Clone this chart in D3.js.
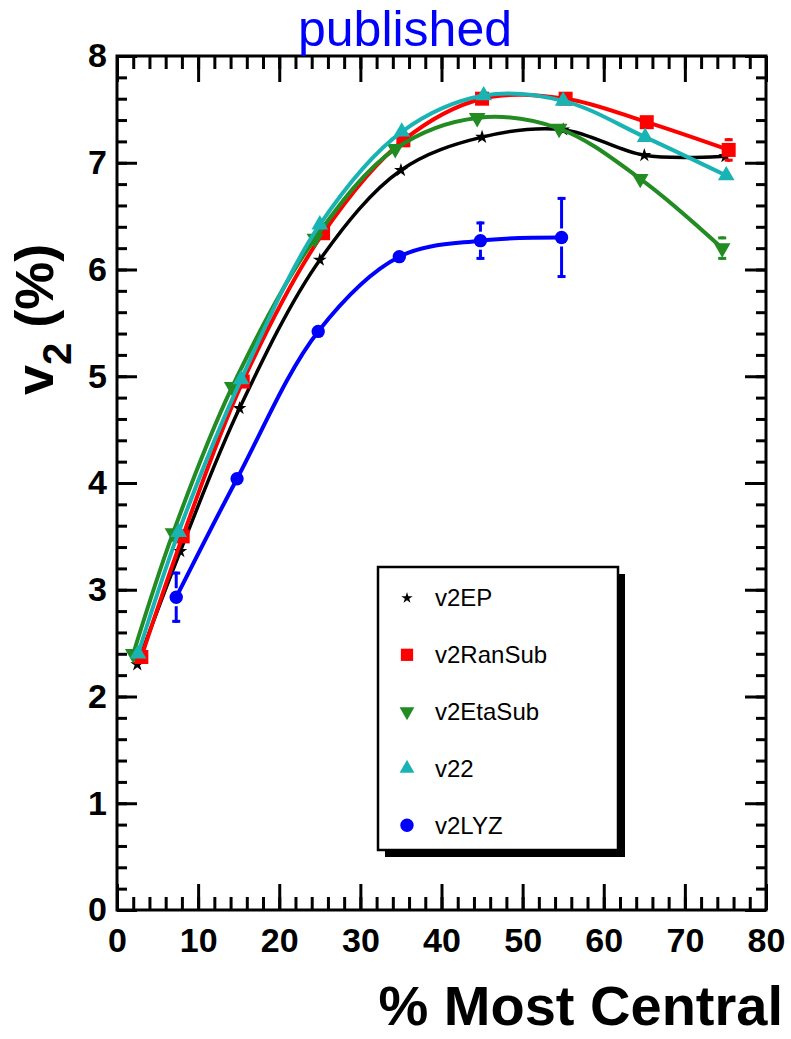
<!DOCTYPE html>
<html>
<head>
<meta charset="utf-8">
<script src="https://cdn.jsdelivr.net/npm/d3@7"></script>
<style>
  html, body { margin: 0; padding: 0; background: #fff; }
  svg { display: block; font-family: "Liberation Sans", Arial, Helvetica, sans-serif; }
</style>
</head>
<body>
<svg id="chart" width="791" height="1039"></svg>
<script>
// Elliptic flow v2 (%) vs. centrality for several methods
const centV2EP      = [2.5, 7.8, 15.1, 25.0, 35.0, 45.0, 55.0, 65.0, 75.0];
const valV2EP       = [2.30, 3.36, 4.70, 6.09, 6.93, 7.24, 7.31, 7.07, 7.06];
const errV2EP       = [0, 0, 0, 0, 0, 0, 0, 0, 0.05];

const centV2RanSub  = [3.0, 8.1, 15.5, 25.4, 35.3, 45.0, 55.3, 65.3, 75.4];
const valV2RanSub   = [2.37, 3.50, 4.95, 6.34, 7.21, 7.60, 7.60, 7.38, 7.12];
const errV2RanSub   = [0, 0, 0, 0, 0, 0, 0, 0, 0.11];

const centV2EtaSub  = [2.0, 6.9, 14.2, 24.4, 34.3, 44.4, 54.5, 64.5, 74.6];
const valV2EtaSub   = [2.40, 3.53, 4.90, 6.29, 7.13, 7.42, 7.32, 6.85, 6.20];
const errV2EtaSub   = [0, 0, 0, 0, 0, 0, 0, 0, 0.11];

const centV22       = [2.6, 7.6, 15.3, 25.0, 35.1, 45.2, 55.0, 65.1, 75.1];
const valV22        = [2.40, 3.54, 4.97, 6.42, 7.29, 7.63, 7.58, 7.24, 6.88];
const errV22        = [0, 0, 0, 0, 0, 0, 0, 0, 0];

const centV2LYZ     = [7.3, 14.8, 24.8, 34.8, 44.8, 54.8];
const valV2LYZ      = [2.93, 4.04, 5.42, 6.12, 6.27, 6.30];
const errV2LYZ      = [0.24, 0, 0, 0, 0.18, 0.38];

const seriesNames   = ["v2EP", "v2RanSub", "v2EtaSub", "v22", "v2LYZ"];
const xMajorTicks   = [0, 10, 20, 30, 40, 50, 60, 70, 80];
const yMajorTicks   = [0, 1, 2, 3, 4, 5, 6, 7, 8];

const svg = d3.select("#chart");
const W = 791, H = 1039;
const plot = { left: 117, right: 766, top: 56, bottom: 910 };

const x = d3.scaleLinear().domain([0, 80]).range([plot.left, plot.right]);
const y = d3.scaleLinear().domain([0, 8]).range([plot.bottom, plot.top]);

const xMinor = d3.range(0, 80.001, 2);
const yMinor = d3.range(0, 8.001, 0.2).map(v => +v.toFixed(2));

svg.append("rect").attr("width", W).attr("height", H).attr("fill", "#fff");

// ---- axes (ticks drawn inward on all four sides) ----
function styleAxis(g) {
  g.select(".domain").remove();
  g.selectAll(".tick line").attr("stroke", "#000").attr("stroke-width", 3);
}
function styleLabels(g) {
  g.selectAll("text").attr("fill", "#000").attr("font-size", 34).attr("font-weight", "bold")
    .attr("font-family", "Liberation Sans, Arial, sans-serif");
}

// bottom
svg.append("g").attr("transform", `translate(0,${plot.bottom})`)
  .call(d3.axisBottom(x).tickValues(xMinor).tickSize(-13).tickFormat(""))
  .call(styleAxis);
svg.append("g").attr("transform", `translate(0,${plot.bottom})`)
  .call(d3.axisBottom(x).tickValues(xMajorTicks).tickSize(-26).tickPadding(18).tickFormat(d3.format("d")))
  .call(styleAxis).call(styleLabels);
// top
svg.append("g").attr("transform", `translate(0,${plot.top})`)
  .call(d3.axisTop(x).tickValues(xMinor).tickSize(-13).tickFormat(""))
  .call(styleAxis);
svg.append("g").attr("transform", `translate(0,${plot.top})`)
  .call(d3.axisTop(x).tickValues(xMajorTicks).tickSize(-26).tickFormat(""))
  .call(styleAxis);
// left
svg.append("g").attr("transform", `translate(${plot.left},0)`)
  .call(d3.axisLeft(y).tickValues(yMinor).tickSize(-10).tickFormat(""))
  .call(styleAxis);
svg.append("g").attr("transform", `translate(${plot.left},0)`)
  .call(d3.axisLeft(y).tickValues(yMajorTicks).tickSize(-20).tickPadding(10).tickFormat(d3.format("d")))
  .call(styleAxis).call(styleLabels);
// right
svg.append("g").attr("transform", `translate(${plot.right},0)`)
  .call(d3.axisRight(y).tickValues(yMinor).tickSize(-10).tickFormat(""))
  .call(styleAxis);
svg.append("g").attr("transform", `translate(${plot.right},0)`)
  .call(d3.axisRight(y).tickValues(yMajorTicks).tickSize(-21).tickFormat(""))
  .call(styleAxis);

// frame
svg.append("rect")
  .attr("x", plot.left).attr("y", plot.top)
  .attr("width", plot.right - plot.left).attr("height", plot.bottom - plot.top)
  .attr("fill", "none").attr("stroke", "#000").attr("stroke-width", 3);

// ---- series ----
const series = [
  { name: seriesNames[0], cent: centV2EP,     val: valV2EP,     err: errV2EP,     color: "#000000", lw: 3.5, sym: d3.symbolStar,     size: 60,  lsize: 40,  rot: 0 },
  { name: seriesNames[1], cent: centV2RanSub, val: valV2RanSub, err: errV2RanSub, color: "#ff0000", lw: 4,   sym: d3.symbolSquare,   size: 196, lsize: 150, rot: 0 },
  { name: seriesNames[2], cent: centV2EtaSub, val: valV2EtaSub, err: errV2EtaSub, color: "#228b22", lw: 4,   sym: d3.symbolTriangle, size: 120, lsize: 95,  rot: 180 },
  { name: seriesNames[3], cent: centV22,      val: valV22,      err: errV22,      color: "#1ab3b3", lw: 4,   sym: d3.symbolTriangle, size: 120, lsize: 95,  rot: 0 },
  { name: seriesNames[4], cent: centV2LYZ,    val: valV2LYZ,    err: errV2LYZ,    color: "#0000ff", lw: 4,   sym: d3.symbolCircle,   size: 140, lsize: 140, rot: 0 }
];

const line = d3.line().x(d => x(d[0])).y(d => y(d[1])).curve(d3.curveCatmullRom.alpha(0.5));

series.forEach(s => {
  const pts = s.cent.map((c, i) => [c, s.val[i], s.err[i]]);
  const g = svg.append("g");

  g.append("path").datum(pts)
    .attr("d", line)
    .attr("fill", "none").attr("stroke", s.color).attr("stroke-width", s.lw)
    .attr("stroke-linejoin", "round");

  // error bars with short end caps, leaving room for the marker
  const gap = 9;
  pts.filter(p => p[2] > 0).forEach(p => {
    const cx = x(p[0]), yHi = y(p[1] + p[2]), yLo = y(p[1] - p[2]), yc = y(p[1]);
    if (yc - yHi > gap) {
      g.append("line").attr("x1", cx).attr("x2", cx).attr("y1", yHi).attr("y2", yc - gap)
        .attr("stroke", s.color).attr("stroke-width", 3);
      g.append("line").attr("x1", cx - 4).attr("x2", cx + 4).attr("y1", yHi + 1.5).attr("y2", yHi + 1.5)
        .attr("stroke", s.color).attr("stroke-width", 3);
    }
    if (yLo - yc > gap) {
      g.append("line").attr("x1", cx).attr("x2", cx).attr("y1", yc + gap).attr("y2", yLo)
        .attr("stroke", s.color).attr("stroke-width", 3);
      g.append("line").attr("x1", cx - 4).attr("x2", cx + 4).attr("y1", yLo - 1.5).attr("y2", yLo - 1.5)
        .attr("stroke", s.color).attr("stroke-width", 3);
    }
  });

  g.selectAll("path.m").data(pts).join("path")
    .attr("class", "m")
    .attr("d", d3.symbol().type(s.sym).size(s.size))
    .attr("transform", d => `translate(${x(d[0])},${y(d[1])}) rotate(${s.rot})`)
    .attr("fill", s.color);
});

// ---- legend ----
const lg = { x: 378, y: 567, w: 240, h: 283, shadow: 7 };
svg.append("rect")
  .attr("x", lg.x + lg.shadow).attr("y", lg.y + lg.shadow)
  .attr("width", lg.w).attr("height", lg.h).attr("fill", "#000");
svg.append("rect")
  .attr("x", lg.x).attr("y", lg.y).attr("width", lg.w).attr("height", lg.h)
  .attr("fill", "#fff").attr("stroke", "#000").attr("stroke-width", 2.5);

series.forEach((s, i) => {
  const cy = lg.y + 31 + i * 56.8;
  svg.append("path")
    .attr("d", d3.symbol().type(s.sym).size(s.lsize))
    .attr("transform", `translate(${lg.x + 29},${cy}) rotate(${s.rot})`)
    .attr("fill", s.color);
  svg.append("text")
    .attr("x", lg.x + 57).attr("y", cy).attr("dy", "0.35em")
    .attr("font-size", 24).attr("fill", "#000")
    .text(s.name);
});

// ---- titles ----
svg.append("text")
  .attr("x", 405).attr("y", 46).attr("text-anchor", "middle")
  .attr("font-size", 50).attr("fill", "#0000ff")
  .text("published");

svg.append("text")
  .attr("x", 783).attr("y", 1025).attr("text-anchor", "end")
  .attr("font-size", 56).attr("font-weight", "bold").attr("fill", "#000")
  .text("% Most Central");

const yt = svg.append("text")
  .attr("transform", "translate(53,395) rotate(-90)")
  .attr("font-size", 54).attr("font-weight", "bold").attr("fill", "#000");
yt.append("tspan").text("v");
yt.append("tspan").attr("font-size", 40).attr("dy", 18).text("2");
yt.append("tspan").attr("dy", -18).text(" (%)");
</script>
</body>
</html>
